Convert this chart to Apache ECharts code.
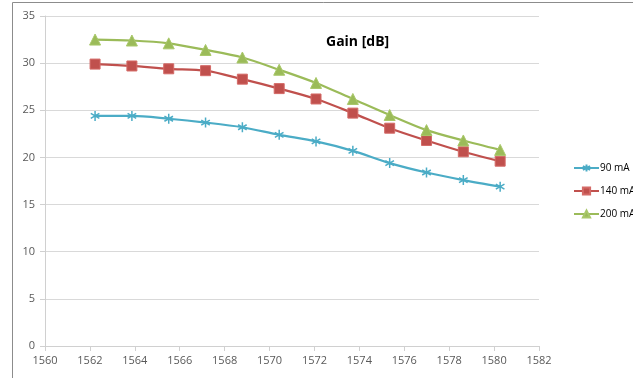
<!DOCTYPE html>
<html>
<head>
<meta charset="utf-8">
<script src="https://cdn.jsdelivr.net/npm/echarts@6/dist/echarts.min.js"></script>
<style>
  html, body { margin: 0; padding: 0; background: #fff; }
  #chart { width: 633px; height: 378px; }
</style>
</head>
<body>
<div id="chart"></div>
<script>
// wavelength (nm) of each measurement
var wavelengths = [1562.23, 1563.87, 1565.51, 1567.15, 1568.79, 1570.43, 1572.07, 1573.71, 1575.35, 1576.99, 1578.63, 1580.27];

// gain [dB] for each pump current
var gain90 = [24.4, 24.4, 24.1, 23.7, 23.2, 22.4, 21.7, 20.7, 19.4, 18.4, 17.6, 16.9];
var gain140 = [29.9, 29.7, 29.4, 29.2, 28.3, 27.3, 26.2, 24.7, 23.1, 21.8, 20.6, 19.6];
var gain200 = [32.5, 32.4, 32.1, 31.4, 30.6, 29.3, 27.9, 26.2, 24.5, 22.9, 21.8, 20.8];

var seriesNames = ['90 mA', '140 mA', '200 mA'];

var chart = echarts.init(document.getElementById('chart'));

// asterisk marker like the excel "star"
var starPath = 'path://M5,0L5,10M0.7,2.5L9.3,7.5M9.3,2.5L0.7,7.5';

function pairs(ys) {
    var res = [];
    for (var i = 0; i < ys.length; i++) {
        res.push([wavelengths[i], ys[i]]);
    }
    return res;
}

var labelFont = 'Open Sans, Liberation Sans, sans-serif';

chart.setOption({
    animation: false,
    title: {
        text: 'Gain [dB]',
        left: 321,
        top: 30,
        textStyle: { fontSize: 14, fontWeight: 'bold', color: '#000', fontFamily: labelFont }
    },
    graphic: [{
        type: 'rect',
        shape: { x: 12.5, y: 2.5, width: 700, height: 420 },
        style: { fill: 'none', stroke: '#8c8c8c', lineWidth: 1 },
        silent: true
    }],
    legend: {
        orient: 'vertical',
        left: 568,
        top: 158,
        itemWidth: 25,
        itemHeight: 9,
        itemGap: 13,
        textStyle: { fontSize: 10, color: '#000', fontFamily: labelFont, padding: [0, 0, 0, -4] },
        data: seriesNames
    },
    grid: { left: 45, top: 16, right: 94, bottom: 32, containLabel: false },
    xAxis: {
        type: 'value',
        min: 1560,
        max: 1582,
        interval: 2,
        axisLine: { lineStyle: { color: '#d0d0d0', width: 1 } },
        axisTick: { show: true, length: 5, lineStyle: { color: '#d0d0d0' } },
        axisLabel: {
            color: '#595959', fontSize: 11, fontFamily: labelFont, margin: 9,
            formatter: function (v) { return String(v); }
        },
        splitLine: { show: false }
    },
    yAxis: {
        type: 'value',
        min: 0,
        max: 35,
        interval: 5,
        axisLine: { show: true, lineStyle: { color: '#d0d0d0', width: 1 } },
        axisTick: { show: true, length: 5, lineStyle: { color: '#d0d0d0' } },
        axisLabel: { color: '#595959', fontSize: 11, fontFamily: labelFont, margin: 10 },
        splitLine: { lineStyle: { color: '#d9d9d9', width: 1 } }
    },
    series: [{
        name: seriesNames[0],
        type: 'line',
        smooth: 0.3,
        symbol: starPath,
        symbolSize: 10,
        symbolKeepAspect: true,
        lineStyle: { color: '#4bacc6', width: 2.2 },
        itemStyle: { color: 'rgba(0,0,0,0)', borderColor: '#4bacc6', borderWidth: 1.5 },
        data: pairs(gain90)
    }, {
        name: seriesNames[1],
        type: 'line',
        smooth: 0.3,
        symbol: 'rect',
        symbolSize: 10,
        lineStyle: { color: '#c0504d', width: 2.2 },
        itemStyle: { color: '#c0504d', borderColor: '#d46a67', borderWidth: 1 },
        data: pairs(gain140)
    }, {
        name: seriesNames[2],
        type: 'line',
        smooth: 0.3,
        symbol: 'triangle',
        symbolSize: 11,
        lineStyle: { color: '#9bbb59', width: 2.2 },
        itemStyle: { color: '#9bbb59', borderColor: '#a9c86a', borderWidth: 1 },
        data: pairs(gain200)
    }]
});
</script>
</body>
</html>
